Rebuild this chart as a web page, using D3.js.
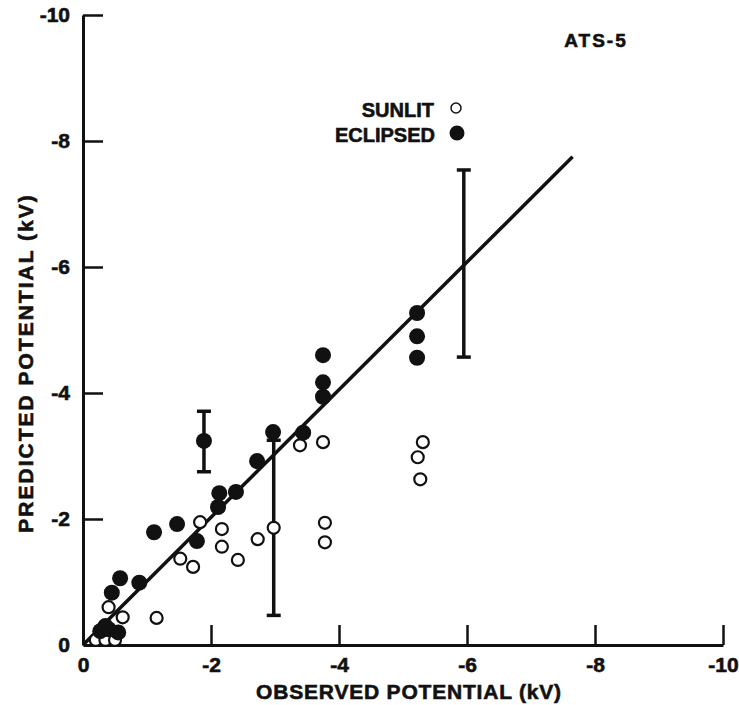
<!DOCTYPE html>
<html>
<head>
<meta charset="utf-8">
<script src="https://cdn.jsdelivr.net/npm/d3@7"></script>
<style>
  body { margin: 0; background: #fff; }
  text { font-family: "Liberation Sans", Arial, sans-serif; font-weight: bold; fill: #111; stroke: #111; stroke-width: 0.6px; }
</style>
</head>
<body>
<svg id="chart" width="739" height="705"></svg>
<script>
// values (kV, negative potentials)
var tickVals = [0, -2, -4, -6, -8, -10];

var sunlitX = [-0.2, -0.35, -0.5, -0.62, -0.4, -1.15, -1.52, -1.72, -1.83, -2.17, -2.17, -2.42, -2.73, -2.98, -3.39, -3.75, -3.78, -3.78, -5.31, -5.23, -5.27];
var sunlitY = [-0.08, -0.08, -0.08, -0.44, -0.6, -0.43, -1.37, -1.24, -1.95, -1.84, -1.56, -1.35, -1.68, -1.86, -3.17, -3.22, -1.94, -1.63, -3.22, -2.98, -2.63];

var eclipsedX = [-0.27, -0.4, -0.55, -0.35, -0.45, -0.58, -0.88, -1.11, -1.47, -1.78, -1.89, -2.13, -2.11, -2.39, -2.72, -2.97, -3.44, -3.75, -3.75, -3.75, -5.22, -5.22, -5.22];
var eclipsedY = [-0.22, -0.25, -0.2, -0.3, -0.83, -1.06, -0.99, -1.79, -1.92, -1.65, -3.24, -2.41, -2.19, -2.43, -2.92, -3.38, -3.37, -3.94, -4.17, -4.6, -5.27, -4.9, -4.56];

// error bars
var errX = [-1.89, -2.98, -5.95];
var errLow = [-2.75, -0.47, -4.57];
var errHigh = [-3.71, -3.25, -7.54];

// fitted line
var fitX = [0, -7.65];
var fitY = [0, -7.75];

var svg = d3.select("#chart");

var x = d3.scaleLinear().domain([0, -10]).range([83, 723]);
var y = d3.scaleLinear().domain([0, -10]).range([645, 15]);

var fmt = function(d) { return d === 0 ? "0" : "-" + Math.abs(d); };

//axes, ticks point inward
var xAxis = svg.append("g")
    .attr("transform", "translate(0,645)")
    .call(d3.axisBottom(x).tickValues(tickVals).tickSize(-20).tickSizeOuter(0).tickPadding(12).tickFormat(fmt));

var yAxis = svg.append("g")
    .attr("transform", "translate(83,0)")
    .call(d3.axisLeft(y).tickValues(tickVals).tickSize(-20).tickSizeOuter(0).tickPadding(13).tickFormat(fmt));

[xAxis, yAxis].forEach(function(g) {
    g.select(".domain").attr("stroke", "#111").attr("stroke-width", 3);
    g.selectAll(".tick line").attr("stroke", "#111").attr("stroke-width", 2.5);
    g.selectAll(".tick text").style("font-size", "21px").attr("fill", "#111");
});
xAxis.selectAll(".tick").filter(function(d) { return d === 0; }).select("line").remove();
yAxis.selectAll(".tick").filter(function(d) { return d === 0; }).select("line").remove();

//fit line
var fitData = fitX.map(function(v, i) { return [v, fitY[i]]; });
svg.append("path")
    .datum(fitData)
    .attr("d", d3.line().x(function(d) { return x(d[0]); }).y(function(d) { return y(d[1]); }))
    .attr("stroke", "#111")
    .attr("stroke-width", 3.5)
    .attr("fill", "none");

//error bars
var errData = errX.map(function(v, i) { return {x: v, lo: errLow[i], hi: errHigh[i]}; });
var eb = svg.append("g").selectAll("g").data(errData).enter().append("g")
    .attr("stroke", "#111");
eb.append("line")
    .attr("x1", function(d) { return x(d.x); }).attr("x2", function(d) { return x(d.x); })
    .attr("y1", function(d) { return y(d.lo); }).attr("y2", function(d) { return y(d.hi); })
    .attr("stroke-width", 3.5);
eb.selectAll(".cap").data(function(d) { return [[d.x, d.lo], [d.x, d.hi]]; }).enter().append("line")
    .attr("class", "cap")
    .attr("x1", function(d) { return x(d[0]) - 7; }).attr("x2", function(d) { return x(d[0]) + 7; })
    .attr("y1", function(d) { return y(d[1]); }).attr("y2", function(d) { return y(d[1]); })
    .attr("stroke-width", 3.5);

//sunlit (open) points
svg.append("g").selectAll("circle")
    .data(sunlitX.map(function(v, i) { return [v, sunlitY[i]]; }))
    .enter().append("circle")
    .attr("cx", function(d) { return x(d[0]); })
    .attr("cy", function(d) { return y(d[1]); })
    .attr("r", 6)
    .attr("fill", "#fff")
    .attr("stroke", "#111")
    .attr("stroke-width", 2.2);

//eclipsed (filled) points
svg.append("g").selectAll("circle")
    .data(eclipsedX.map(function(v, i) { return [v, eclipsedY[i]]; }))
    .enter().append("circle")
    .attr("cx", function(d) { return x(d[0]); })
    .attr("cy", function(d) { return y(d[1]); })
    .attr("r", 8)
    .attr("fill", "#111");

//axis titles
svg.append("text")
    .attr("x", 409).attr("y", 699)
    .attr("text-anchor", "middle")
    .style("font-size", "21px")
    .style("letter-spacing", "0.8px")
    .text("OBSERVED POTENTIAL (kV)");

svg.append("text")
    .attr("transform", "translate(33,363) rotate(-90)")
    .attr("text-anchor", "middle")
    .style("font-size", "21px")
    .style("letter-spacing", "2px")
    .text("PREDICTED POTENTIAL (kV)");

//legend
svg.append("text").attr("x", 596).attr("y", 47).attr("text-anchor", "middle")
    .style("font-size", "19px").style("letter-spacing", "2px").text("ATS-5");

svg.append("text").attr("x", 434).attr("y", 117).attr("text-anchor", "end")
    .style("font-size", "20px").text("SUNLIT");
svg.append("text").attr("x", 435).attr("y", 142).attr("text-anchor", "end")
    .style("font-size", "20px").text("ECLIPSED");
svg.append("circle").attr("cx", 456).attr("cy", 108).attr("r", 5)
    .attr("fill", "#fff").attr("stroke", "#111").attr("stroke-width", 1.5);
svg.append("circle").attr("cx", 457).attr("cy", 133).attr("r", 7.5)
    .attr("fill", "#111");
</script>
</body>
</html>
